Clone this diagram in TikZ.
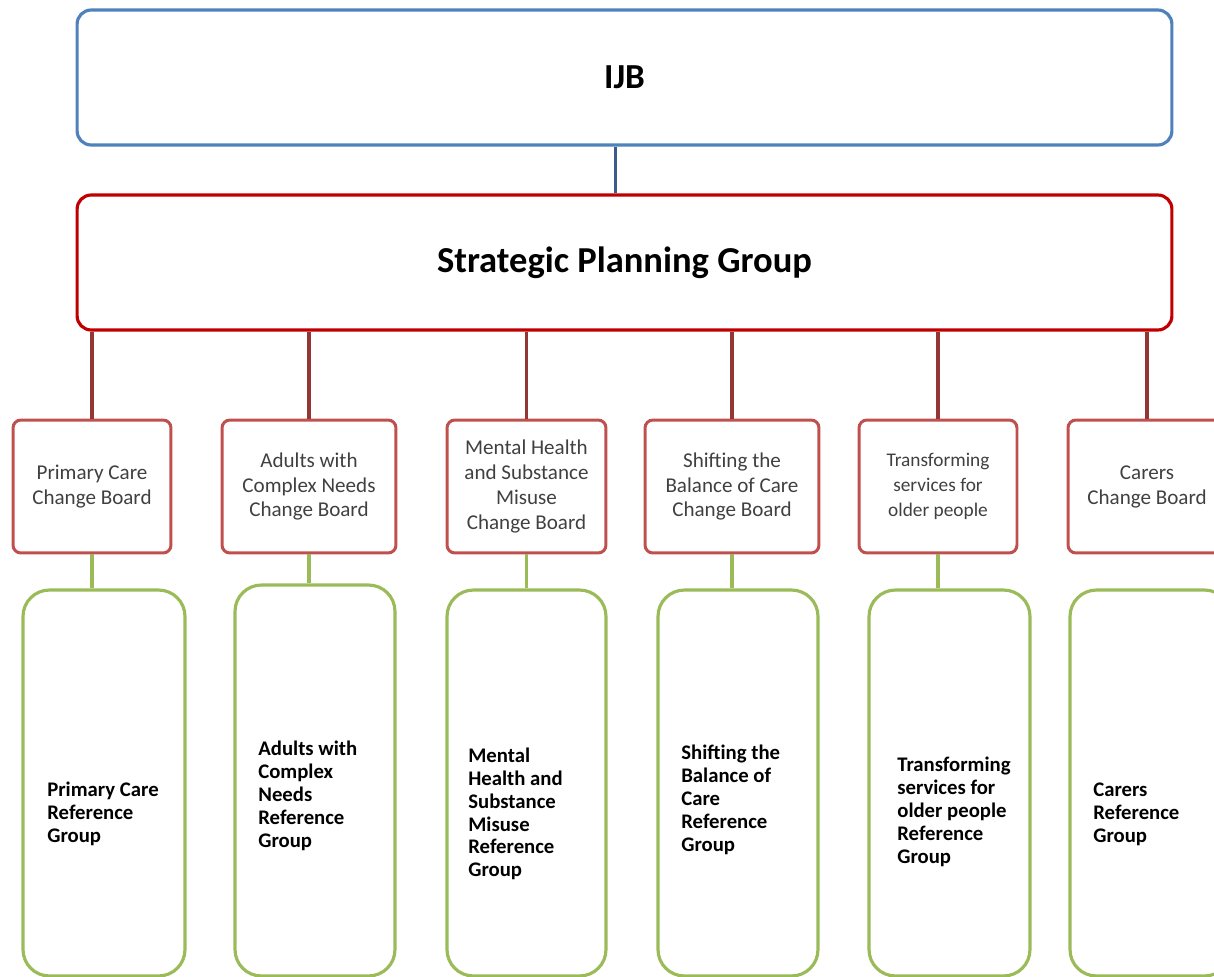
\documentclass[tikz,border=0pt]{standalone}
\usepackage{fontspec}
\setmainfont{Carlito}
\definecolor{ijbblue}{HTML}{4F81BD}
\definecolor{ijbline}{HTML}{385D8A}
\definecolor{spgred}{HTML}{C00000}
\definecolor{linkred}{HTML}{943634}
\definecolor{boardred}{HTML}{C0504D}
\definecolor{refgreen}{HTML}{9BBB59}
\begin{document}
\begin{tikzpicture}[x=0.02cm,y=-0.02cm,
  topbox/.style={draw,line width=1.8pt,rounded corners=8pt,minimum width=21.9cm,minimum height=2.7cm},
  boardbox/.style={draw=boardred,line width=1.7pt,rounded corners=4.5pt,minimum height=2.66cm,
    align=center,inner sep=0pt,text=black!75,font=\fontsize{12}{14.2}\selectfont},
  refbox/.style={draw=refgreen,line width=1.8pt,rounded corners=15pt,minimum height=7.72cm},
  reftext/.style={anchor=west,align=left,inner sep=0pt,font=\bfseries\fontsize{11.8}{13}\selectfont},
  link/.style={line width=1.9pt}]

\useasboundingbox (0,0) rectangle (1214,977);
\clip (0,0) rectangle (1214,977);

% top of the structure
\node[topbox,draw=ijbblue,font=\bfseries\fontsize{20}{22}\selectfont] (ijb) at (624.5,77.5) {IJB};
\node[topbox,draw=spgred,font=\bfseries\fontsize{20.8}{24}\selectfont] (spg) at (624.5,262.5) {Strategic Planning Group};
\draw[link,ijbline] ([xshift=-0.18cm]ijb.south) -- ([xshift=-0.18cm]spg.north);

% change boards
\node[boardbox,minimum width=3.16cm] (cb1) at (92,486.5) {Primary Care\\Change Board};
\node[boardbox,minimum width=3.48cm] (cb2) at (309,486.5) {Adults with\\Complex Needs\\Change Board};
\node[boardbox,minimum width=3.18cm] (cb3) at (526.5,486.5) {Mental Health\\and Substance\\Misuse\\Change Board};
\node[boardbox,minimum width=3.48cm] (cb4) at (732,486.5) {Shifting the\\Balance of Care\\Change Board};
\node[boardbox,minimum width=3.16cm,font=\fontsize{11}{14.2}\selectfont] (cb5) at (938,486.5) {Transforming\\services for\\older people};
\node[boardbox,minimum width=3.16cm] (cb6) at (1147,486.5) {Carers\\Change Board};

% reference groups
\node[refbox,minimum width=3.24cm] (rg1) at (104,783) {};
\node[refbox,minimum width=3.2cm,minimum height=7.82cm] (rg2) at (315,780.5) {};
\node[refbox,minimum width=3.18cm] (rg3) at (526.5,783) {};
\node[refbox,minimum width=3.2cm] (rg4) at (738,783) {};
\node[refbox,minimum width=3.22cm] (rg5) at (949.5,783) {};
\node[refbox,minimum width=3.22cm] (rg6) at (1150.5,783) {};

\node[reftext] (rg1t) at (47,814) {Primary Care\\Reference\\Group};
\node[reftext] (rg2t) at (258,796) {Adults with\\Complex\\Needs\\Reference\\Group};
\node[reftext] (rg3t) at (468,814) {Mental\\Health and\\Substance\\Misuse\\Reference\\Group};
\node[reftext] (rg4t) at (681,800) {Shifting the\\Balance of\\Care\\Reference\\Group};
\node[reftext] (rg5t) at (897,812) {Transforming\\services for\\older people\\Reference\\Group};
\node[reftext] (rg6t) at (1093,814) {Carers\\Reference\\Group};

% connectors
\foreach \i in {1,...,6}
  \draw[link,linkred] (spg.south -| cb\i.north) -- (cb\i.north);
\foreach \i in {1,...,5}
  \draw[link,refgreen] (cb\i.south) -- (cb\i.south |- rg\i.north);

\end{tikzpicture}
\end{document}
